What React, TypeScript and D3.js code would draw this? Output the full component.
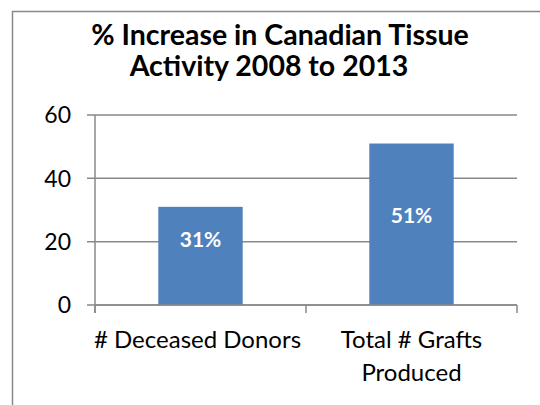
import * as d3 from "d3";

const categories = ["# Deceased Donors", "Total # Grafts Produced"];
const categoryLines = [["# Deceased Donors"], ["Total # Grafts", "Produced"]];
const values = [31, 51];
const valueLabels = ["31%", "51%"];
// where the data labels sit, in axis units (they were placed by hand in the original)
const labelAt = [20.8, 28.4];
const yTicks = [0, 20, 40, 60];
const titleLines = ["% Increase in Canadian Tissue", "Activity 2008 to 2013"];

const width = 540;
const height = 405;
const font = "Lato, 'Open Sans', sans-serif";
const gray = "#898989";
const barColor = "#4F81BD";

export default function App() {
  const x = d3.scaleBand<string>().domain(categories).range([95, 517]).paddingInner(0.6).paddingOuter(0.3);
  const y = d3.scaleLinear().domain([0, 60]).range([305, 115]);
  const step = x.step();
  const boundaries = [0, 1, 2].map((i) => 95 + i * step);
  const [x0, x1] = x.range();

  return (
    <svg
      width={width}
      height={height}
      style={{ position: "absolute", left: 0, top: 0, background: "#fff" }}
      fontFamily={font}
    >
      <rect x={12.5} y={11.5} width={width} height={height} fill="#fff" stroke={gray} strokeWidth={1.5} />

      <text textAnchor="middle" fontWeight="bold" fontSize={28.5} fill="#000">
        <tspan x={280} y={44.5}>{titleLines[0]}</tspan>
        <tspan x={269} y={75.5}>{titleLines[1]}</tspan>
      </text>

      {/* gridlines + y ticks */}
      {yTicks.map((t) => (
        <g key={t}>
          <line x1={x0 - 8} x2={x1} y1={y(t)} y2={y(t)} stroke={gray} strokeWidth={1.5} />
          <text x={71} y={y(t)} dy="0.36em" textAnchor="end" fontSize={23} fill="#000">
            {t}
          </text>
        </g>
      ))}

      {/* bars */}
      {categories.map((c, i) => (
        <g key={c}>
          <rect x={x(c)} y={y(values[i])} width={x.bandwidth()} height={y(0) - y(values[i])} fill={barColor} />
          <text
            x={(x(c) ?? 0) + x.bandwidth() / 2}
            y={y(labelAt[i])}
            dy="0.36em"
            textAnchor="middle"
            fontWeight="bold"
            fontSize={21}
            fill="#fff"
          >
            {valueLabels[i]}
          </text>
        </g>
      ))}

      {/* axes */}
      <line x1={x0} x2={x0} y1={y(60)} y2={y(0) + 8} stroke={gray} strokeWidth={1.5} />
      <line x1={x0} x2={x1} y1={y(0)} y2={y(0)} stroke={gray} strokeWidth={1.5} />
      {boundaries.map((b, i) => (
        <line key={i} x1={b} x2={b} y1={y(0)} y2={y(0) + 8} stroke={gray} strokeWidth={1.5} />
      ))}

      {categories.map((c, i) => (
        <text key={c} textAnchor="middle" fontSize={24} fill="#000">
          {categoryLines[i].map((l, j) => (
            <tspan key={j} x={(x(c) ?? 0) + x.bandwidth() / 2 - (i === 0 ? 3 : 0)} y={348 + j * 32.5}>
              {l}
            </tspan>
          ))}
        </text>
      ))}
    </svg>
  );
}
